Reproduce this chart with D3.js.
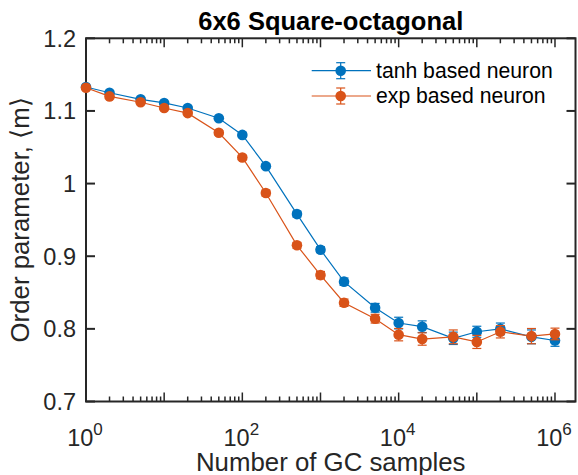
<!DOCTYPE html>
<html>
<head>
<meta charset="utf-8">
<script src="https://cdn.jsdelivr.net/npm/d3@7"></script>
<style>
  body { margin: 0; background: #fff; }
  text { font-family: "Liberation Sans", Arial, sans-serif; fill: #262626; }
</style>
</head>
<body>
<div id="chart"></div>
<script>
// samples on x, order parameter per neuron type
const samples = [1, 2, 5, 10, 20, 50, 100, 200, 500, 1000, 2000, 5000, 1e4, 2e4, 5e4, 1e5, 2e5, 5e5, 1e6];
const tanhVals = [1.133, 1.125, 1.116, 1.111, 1.104, 1.090, 1.067, 1.024, 0.958, 0.909, 0.865, 0.829, 0.808, 0.803, 0.787, 0.796, 0.800, 0.789, 0.784];
const tanhErr = [0.002, 0.002, 0.002, 0.002, 0.002, 0.002, 0.003, 0.003, 0.004, 0.004, 0.005, 0.006, 0.008, 0.008, 0.0085, 0.0076, 0.008, 0.0095, 0.008];
const expVals = [1.132, 1.120, 1.112, 1.104, 1.097, 1.070, 1.036, 0.987, 0.915, 0.874, 0.836, 0.814, 0.792, 0.786, 0.789, 0.782, 0.796, 0.790, 0.793];
const expErr = [0.002, 0.002, 0.002, 0.002, 0.002, 0.003, 0.003, 0.004, 0.004, 0.005, 0.005, 0.006, 0.0085, 0.0085, 0.0095, 0.009, 0.0085, 0.0105, 0.008];
const yTicks = [0.7, 0.8, 0.9, 1, 1.1, 1.2];
const xTicks = [1, 1e2, 1e4, 1e6];
const seriesNames = ["tanh based neuron", "exp based neuron"];
const seriesColors = ["#0072BD", "#D95319"];

const W = 578, H = 475;
const pLeft = 86, pRight = 575.5, pTop = 38.3, pBottom = 401.5;

const svg = d3.select("#chart").append("svg").attr("width", W).attr("height", H);

const x = d3.scaleLog().domain([1, 1.83e6]).range([pLeft, pRight]);
const y = d3.scaleLinear().domain([0.7, 1.2]).range([pBottom, pTop]);

const axisColor = "#262626";

// minor ticks for log axis
let minor = [];
for (let e = 0; e <= 6; e++) {
  for (let k = 2; k <= 9; k++) {
    const v = k * Math.pow(10, e);
    if (v < 1.83e6) minor.push(v);
  }
}
let majorX = [1, 10, 100, 1000, 1e4, 1e5, 1e6];

const ticksG = svg.append("g").attr("stroke", axisColor);
// bottom + top major/minor
[[pBottom, -1], [pTop, 1]].forEach(function (p) {
  ticksG.selectAll(null).data(majorX).enter().append("line")
    .attr("x1", d => x(d)).attr("x2", d => x(d))
    .attr("y1", p[0]).attr("y2", p[0] + p[1] * 9)
    .attr("stroke-width", 1.5);
  ticksG.selectAll(null).data(minor).enter().append("line")
    .attr("x1", d => x(d)).attr("x2", d => x(d))
    .attr("y1", p[0]).attr("y2", p[0] + p[1] * 5)
    .attr("stroke-width", 1.5);
});
// left + right y ticks
[[pLeft, 1], [pRight, -1]].forEach(function (p) {
  ticksG.selectAll(null).data(yTicks).enter().append("line")
    .attr("x1", p[0]).attr("x2", p[0] + p[1] * 9)
    .attr("y1", d => y(d)).attr("y2", d => y(d))
    .attr("stroke-width", 2);
});

// frame
svg.append("rect")
  .attr("x", pLeft).attr("y", pTop)
  .attr("width", pRight - pLeft).attr("height", pBottom - pTop)
  .attr("fill", "none").attr("stroke", axisColor).attr("stroke-width", 2);

// y tick labels
svg.append("g").selectAll("text").data(yTicks).enter().append("text")
  .attr("x", pLeft - 10).attr("y", d => y(d))
  .attr("dy", "0.36em")
  .attr("text-anchor", "end")
  .style("font-size", "23.5px")
  .text(d => d3.format("")(d));

// x tick labels 10^n
const xl = svg.append("g").selectAll("text").data(xTicks).enter().append("text")
  .attr("x", d => x(d) - 1).attr("y", pBottom + 44)
  .attr("text-anchor", "middle")
  .style("font-size", "23.5px");
xl.append("tspan").text("10");
xl.append("tspan").attr("dy", -11).style("font-size", "17px").text(d => Math.round(Math.log10(d)));

// axis labels + title
svg.append("text")
  .attr("x", (pLeft + pRight) / 2).attr("y", 471)
  .attr("text-anchor", "middle")
  .style("font-size", "25.8px")
  .text("Number of GC samples");

svg.append("text")
  .attr("transform", "translate(29," + (pTop + pBottom) / 2 + ") rotate(-90)")
  .attr("text-anchor", "middle")
  .style("font-size", "25.8px")
  .text("Order parameter, \u27E8m\u27E9");

svg.append("text")
  .attr("x", (pLeft + pRight) / 2).attr("y", 30)
  .attr("text-anchor", "middle")
  .style("font-size", "25.5px")
  .style("font-weight", "bold")
  .style("fill", "#000")
  .text("6x6 Square-octagonal");

// series
const allSeries = [
  { vals: tanhVals, err: tanhErr },
  { vals: expVals, err: expErr }
];

const line = d3.line().x(d => x(d[0])).y(d => y(d[1]));
const cap = 4.5;

allSeries.forEach(function (s, si) {
  const col = seriesColors[si];
  const pts = samples.map((v, i) => [v, s.vals[i], s.err[i]]);
  const g = svg.append("g");
  g.append("path").datum(pts)
    .attr("d", line).attr("fill", "none")
    .attr("stroke", col).attr("stroke-width", 1.2);

  const eb = g.selectAll(".eb").data(pts).enter().append("g");
  eb.append("line")
    .attr("x1", d => x(d[0])).attr("x2", d => x(d[0]))
    .attr("y1", d => y(d[1] - d[2])).attr("y2", d => y(d[1] + d[2]))
    .attr("stroke", col).attr("stroke-width", 1.2);
  [-1, 1].forEach(function (sg) {
    eb.append("line")
      .attr("x1", d => x(d[0]) - cap).attr("x2", d => x(d[0]) + cap)
      .attr("y1", d => y(d[1] + sg * d[2])).attr("y2", d => y(d[1] + sg * d[2]))
      .attr("stroke", col).attr("stroke-width", 1.2);
  });
  g.selectAll("circle").data(pts).enter().append("circle")
    .attr("cx", d => x(d[0])).attr("cy", d => y(d[1]))
    .attr("r", 5.3).attr("fill", col);
});

// legend
const legend = svg.append("g").selectAll("g").data(seriesNames).enter().append("g")
  .attr("transform", (d, i) => "translate(0," + (70.7 + i * 25.3) + ")");
legend.append("line")
  .attr("x1", 311.7).attr("x2", 371).attr("y1", 0).attr("y2", 0)
  .attr("stroke", (d, i) => seriesColors[i]).attr("stroke-width", 1.2);
legend.append("line")
  .attr("x1", 340.7).attr("x2", 340.7).attr("y1", -8).attr("y2", 8)
  .attr("stroke", (d, i) => seriesColors[i]).attr("stroke-width", 1.2);
[-8, 8].forEach(function (off) {
  legend.append("line")
    .attr("x1", 340.7 - cap).attr("x2", 340.7 + cap).attr("y1", off).attr("y2", off)
    .attr("stroke", (d, i) => seriesColors[i]).attr("stroke-width", 1.2);
});
legend.append("circle")
  .attr("cx", 340.7).attr("cy", 0).attr("r", 5.3)
  .attr("fill", (d, i) => seriesColors[i]);
legend.append("text")
  .attr("x", 376).attr("y", 0).attr("dy", "0.35em")
  .style("font-size", "21.2px")
  .style("fill", "#000")
  .text(d => d);
</script>
</body>
</html>
